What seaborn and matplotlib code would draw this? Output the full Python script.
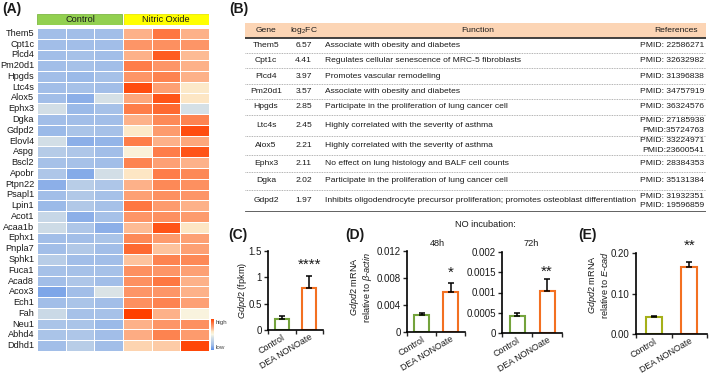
import numpy as np
import pandas as pd
import matplotlib
matplotlib.use('Agg')
import matplotlib.pyplot as plt
from matplotlib.patches import Rectangle
from matplotlib.colors import LinearSegmentedColormap
import seaborn as sns

# ---- data -------------------------------------------------------------
genes = ['Them5', 'Cpt1c', 'Plcd4', 'Pm20d1', 'Hpgds', 'Ltc4s', 'Alox5', 'Ephx3',
         'Dgka', 'Gdpd2', 'Elovl4', 'Aspg', 'Bscl2', 'Apobr', 'Ptpn22', 'Psapl1',
         'Lpin1', 'Acot1', 'Acaa1b', 'Ephx1', 'Pnpla7', 'Sphk1', 'Fuca1', 'Acad8',
         'Acox3', 'Ech1', 'Fah', 'Neu1', 'Abhd4', 'Ddhd1']
samples = ['Ctrl1', 'Ctrl2', 'Ctrl3', 'NO1', 'NO2', 'NO3']
# z-scores
expr = [
    [-1.0, -1.0, -1.0, 0.6, 1.1, 0.6],
    [-1.0, -1.0, -1.0, 0.85, 0.9, 0.85],
    [-1.0, -0.95, -1.0, 0.6, 1.3, 0.55],
    [-1.0, -0.95, -1.0, 1.05, 0.85, 0.6],
    [-1.0, -1.05, -0.95, 0.85, 1.0, 0.6],
    [-1.0, -0.95, -1.0, 1.4, 0.75, 0.25],
    [-1.0, -1.15, -0.3, 0.7, 1.35, 0.3],
    [-0.35, -1.05, -0.95, 1.05, 1.2, -0.3],
    [-1.0, -1.0, -1.0, 0.6, 0.95, 1.0],
    [-1.05, -0.9, -0.95, 0.25, 0.8, 1.4],
    [-0.35, -1.15, -1.1, 1.05, 0.6, 0.7],
    [-0.75, -0.85, -1.0, 0.1, 1.05, 1.35],
    [-0.95, -0.95, -1.0, 1.0, 0.75, 0.6],
    [-0.85, -1.2, -0.35, 0.3, 1.05, 0.95],
    [-1.15, -0.7, -0.85, 0.6, 0.95, 0.9],
    [-1.0, -0.8, -0.95, 0.75, 0.9, 0.85],
    [-1.05, -0.8, -0.95, 1.1, 0.8, 0.6],
    [-0.5, -1.15, -0.95, 0.85, 0.9, 0.8],
    [-0.4, -0.85, -1.15, 0.55, 1.35, 0.3],
    [-1.0, -1.0, -0.9, 0.95, 0.8, 0.75],
    [-1.0, -0.8, -1.0, 1.2, 0.5, 0.75],
    [-0.7, -1.0, -1.0, 0.5, 1.0, 0.95],
    [-0.95, -0.95, -0.95, 0.9, 0.85, 0.75],
    [-1.0, -0.85, -1.0, 0.9, 1.1, 0.6],
    [-1.25, -1.0, -0.25, 0.85, 0.85, 0.6],
    [-1.0, -0.9, -1.0, 0.9, 1.0, 0.75],
    [-0.45, -0.95, -0.95, 1.5, 0.6, 0.05],
    [-0.9, -0.9, -1.05, 0.6, 0.85, 0.9],
    [-0.9, -0.85, -1.0, 0.65, 1.0, 0.8],
    [-1.0, -0.7, -1.0, 0.4, 0.45, 1.45],
]

tab_genes = ['Them5', 'Cpt1c', 'Plcd4', 'Pm20d1', 'Hpgds', 'Ltc4s', 'Alox5', 'Ephx3', 'Dgka', 'Gdpd2']
tab_fc = [6.57, 4.41, 3.97, 3.57, 2.85, 2.45, 2.21, 2.11, 2.02, 1.97]
tab_func = ['Associate with obesity and diabetes',
            'Regulates cellular senescence of MRC-5 fibroblasts',
            'Promotes vascular remodeling',
            'Associate with obesity and diabetes',
            'Participate in the proliferation of lung cancer cell',
            'Highly correlated with the severity of asthma',
            'Highly correlated with the severity of asthma',
            'No effect on lung histology and BALF cell counts',
            'Participate in the proliferation of lung cancer cell',
            'Inhibits oligodendrocyte precursor proliferation; promotes osteoblast differentiation']
tab_refs = ['PMID: 22586271', 'PMID: 32632982', 'PMID: 31396838', 'PMID: 34757919',
            'PMID: 36324576', 'PMID: 27185938\nPMID:35724763', 'PMID: 33224971\nPMID:23600541',
            'PMID: 28384353', 'PMID: 35131384', 'PMID: 31932351\nPMID: 19596859']

groups = ['Control', 'DEA NONOate']
fpkm_mean = [0.21, 0.79]
fpkm_err = [0.05, 0.24]
d48_mean = [0.0025, 0.0060]
d48_err = [0.0003, 0.0013]
d72_mean = [0.00042, 0.00104]
d72_err = [0.00007, 0.00029]
ecad_mean = [0.041, 0.165]
ecad_err = [0.003, 0.013]

# ---- style ------------------------------------------------------------
sns.set_style('white')
plt.rcParams['font.family'] = ['Liberation Sans', 'DejaVu Sans']
plt.rcParams['mathtext.fontset'] = 'custom'
plt.rcParams['mathtext.rm'] = 'Liberation Sans'
plt.rcParams['mathtext.it'] = 'Liberation Sans:italic'
plt.rcParams['mathtext.bf'] = 'Liberation Sans:bold'
TXT = '#1a1a1a'

W, H = 709, 375
fig = plt.figure(figsize=(W / 100, H / 100), dpi=100)

def px_axes(x0, y0, x1, y1):
    return fig.add_axes([x0 / W, 1 - y1 / H, (x1 - x0) / W, (y1 - y0) / H])

def ft(x, y, s, **kw):
    fig.text(x / W, 1 - y / H, s, **kw)

# ---- (A) heatmap ------------------------------------------------------
stops = [(-1.5, '#5a8ee8'), (-1.0, '#a3bfe8'), (-0.3, '#d5e0e6'), (0.0, '#f8f6e4'),
         (0.3, '#fde6c4'), (0.6, '#fdb28a'), (0.9, '#fd9060'), (1.2, '#fe6a32'), (1.5, '#ff4000')]
cmap = LinearSegmentedColormap.from_list('hm', [((v + 1.5) / 3, c) for v, c in stops])

ax_hm = px_axes(37, 28, 209, 351)
ax_cb = px_axes(211, 319, 214, 350)
df_hm = pd.DataFrame(expr, index=genes, columns=samples)
sns.heatmap(df_hm, ax=ax_hm, cmap=cmap, vmin=-1.5, vmax=1.5, linewidths=0.7,
            linecolor='white', cbar_ax=ax_cb, xticklabels=False, yticklabels=True)
ax_hm.set_xlabel('')
ax_hm.set_ylabel('')
ax_hm.tick_params(axis='y', length=0, pad=2, labelsize=6.6, labelcolor=TXT)
cb = ax_hm.collections[0].colorbar
cb.set_ticks([1.25, -1.25])
cb.set_ticklabels(['high', 'low'])
cb.ax.tick_params(length=0, labelsize=4.5, pad=1, labelcolor='#444444')
cb.outline.set_visible(False)

ax_hd = px_axes(37, 14, 209, 25)
ax_hd.set_xlim(0, 6)
ax_hd.set_ylim(0, 1)
ax_hd.add_patch(Rectangle((0, 0), 2.97, 1, fc='#92d050', ec='#7fb844', lw=0.6))
ax_hd.add_patch(Rectangle((3.03, 0), 2.97, 1, fc='#ffff00', ec='#e8e800', lw=0.6))
ax_hd.text(1.5, 0.5, 'Control', ha='center', va='center', fontsize=6.6, color=TXT)
ax_hd.text(4.5, 0.5, 'Nitric Oxide', ha='center', va='center', fontsize=6.6, color=TXT)
ax_hd.axis('off')

# ---- (B) table --------------------------------------------------------
ax_tb = px_axes(245, 23, 706, 212)
ax_tb.set_xlim(0, 461)
ax_tb.set_ylim(189, 0)
ax_tb.axis('off')
heights = [15, 15, 15, 16, 15, 16, 21, 19, 17, 18, 22]
bounds = np.concatenate([[0], np.cumsum(heights)])
ax_tb.add_patch(Rectangle((0, 0), 461, heights[0], fc='#fcd5b5', ec='none'))
hy = heights[0] / 2
fs = 6.1
ax_tb.text(21, hy, 'Gene', ha='center', va='center', fontsize=fs, color=TXT)
ax_tb.text(59, hy, r'log$_2$FC', ha='center', va='center', fontsize=fs, color=TXT)
ax_tb.text(233, hy, 'Function', ha='center', va='center', fontsize=fs, color=TXT)
ax_tb.text(431, hy, 'References', ha='center', va='center', fontsize=fs, color=TXT)
ax_tb.plot([0, 461], [bounds[1], bounds[1]], color='#333333', lw=1.3)
for i in range(len(tab_genes)):
    yc = (bounds[i + 1] + bounds[i + 2]) / 2
    ax_tb.text(21, yc, tab_genes[i], ha='center', va='center', fontsize=fs, color=TXT)
    ax_tb.text(67, yc, f'{tab_fc[i]:.2f}', ha='right', va='center', fontsize=fs, color=TXT)
    ax_tb.text(80, yc, tab_func[i], ha='left', va='center', fontsize=fs, color=TXT)
    ax_tb.text(459, yc, tab_refs[i], ha='right', va='center', fontsize=fs, color=TXT,
               linespacing=1.45)
    if i < len(tab_genes) - 1:
        ax_tb.plot([0, 461], [bounds[i + 2]] * 2, color='#9a9a9a', lw=0.6, ls=(0, (1, 1)))
ax_tb.plot([0, 461], [bounds[-1] - 0.5] * 2, color='#333333', lw=1.8)

# ---- (C)-(E) bar panels ----------------------------------------------
green, orange, olive = '#74a33c', '#f37021', '#a5b019'

def bar_panel(ax, means, errs, colors, top, ticks, labels, stars, star_y, width):
    sns.barplot(x=groups, y=means, hue=groups, palette=colors, fill=False, width=width,
                linewidth=1.5, errorbar=None, legend=False, ax=ax)
    ax.errorbar([0, 1], means, yerr=[[0, 0], errs], fmt='none', ecolor='black',
                elinewidth=1.1, capsize=2.5, capthick=1.1)
    ax.set_xlim(-0.5, 1.5)
    ax.set_ylim(0, top)
    ax.set_yticks(ticks)
    ax.set_yticklabels(labels)
    sns.despine(ax=ax)
    for s in ['left', 'bottom']:
        ax.spines[s].set_linewidth(1.2)
        ax.spines[s].set_color('black')
    ax.tick_params(axis='y', direction='out', length=3, width=1, labelsize=7, pad=1.5,
                   left=True, labelcolor=TXT)
    ax.tick_params(axis='x', which='major', length=0, labelsize=6.4, pad=2, labelcolor=TXT)
    ax.set_xticks([-0.5, 0.5, 1.5], minor=True)
    ax.tick_params(axis='x', which='minor', direction='out', length=3, width=1, bottom=True)
    for lab in ax.get_xticklabels():
        lab.set_rotation(31)
        lab.set_ha('right')
        lab.set_rotation_mode('anchor')
    ax.set_xlabel('')
    ax.set_ylabel('')
    ax.set_facecolor('none')
    ax.text(1, star_y, stars, ha='center', va='center', fontsize=11, color=TXT, clip_on=False)

ax_c = px_axes(268, 251, 323, 330)
bar_panel(ax_c, fpkm_mean, fpkm_err, [green, orange], 1.5, [0, 0.5, 1, 1.5],
          ['0', '0.5', '1', '1.5'], '****', 1.23, 0.5)

ax_d1 = px_axes(407, 251, 465, 332)
bar_panel(ax_d1, d48_mean, d48_err, [green, orange], 0.012, [0, 0.004, 0.008, 0.012],
          ['0', '0.004', '0.008', '0.012'], '*', 0.0088, 0.52)

ax_d2 = px_axes(502, 252, 562, 333)
bar_panel(ax_d2, d72_mean, d72_err, [green, orange], 0.002, [0, 0.0005, 0.001, 0.0015, 0.002],
          ['0', '0.0005', '0.001', '0.0015', '0.002'], '**', 0.00152, 0.5)

ax_e = px_axes(636, 253, 707, 334)
bar_panel(ax_e, ecad_mean, ecad_err, [olive, orange], 0.2, [0, 0.1, 0.2],
          ['0.00', '0.10', '0.20'], '**', 0.218, 0.44)

# axis titles / labels
ft(242, 290, r'$\mathit{Gdpd2}$ (fpkm)', rotation=90, ha='center', va='center', fontsize=6.6, color=TXT)
ft(361, 287, r'$\mathit{Gdpd2}$ mRNA' + '\n' + r'relative to $\mathit{\beta}$-$\mathit{actin}$',
   rotation=90, ha='center', va='center', fontsize=6.6, color=TXT, multialignment='center',
   linespacing=1.1)
ft(598, 285, r'$\mathit{Gdpd2}$ mRNA' + '\n' + r'relative to $\mathit{E}$-$\mathit{cad}$',
   rotation=90, ha='center', va='center', fontsize=6.6, color=TXT, multialignment='center',
   linespacing=1.1)
ft(485, 224, 'NO incubation:', ha='center', va='center', fontsize=6.6, color=TXT)
ft(437, 243, '48h', ha='center', va='center', fontsize=6.6, color=TXT)
ft(531, 244, '72h', ha='center', va='center', fontsize=6.6, color=TXT)

# panel letters
for x, y, s in [(2, 9, '(A)'), (229, 9, '(B)'), (228, 235, '(C)'), (345, 235, '(D)'), (578, 235, '(E)')]:
    ft(x, y, s, ha='left', va='center', fontsize=10, fontweight='bold', color=TXT)

fig.savefig('out.png', dpi=100)
